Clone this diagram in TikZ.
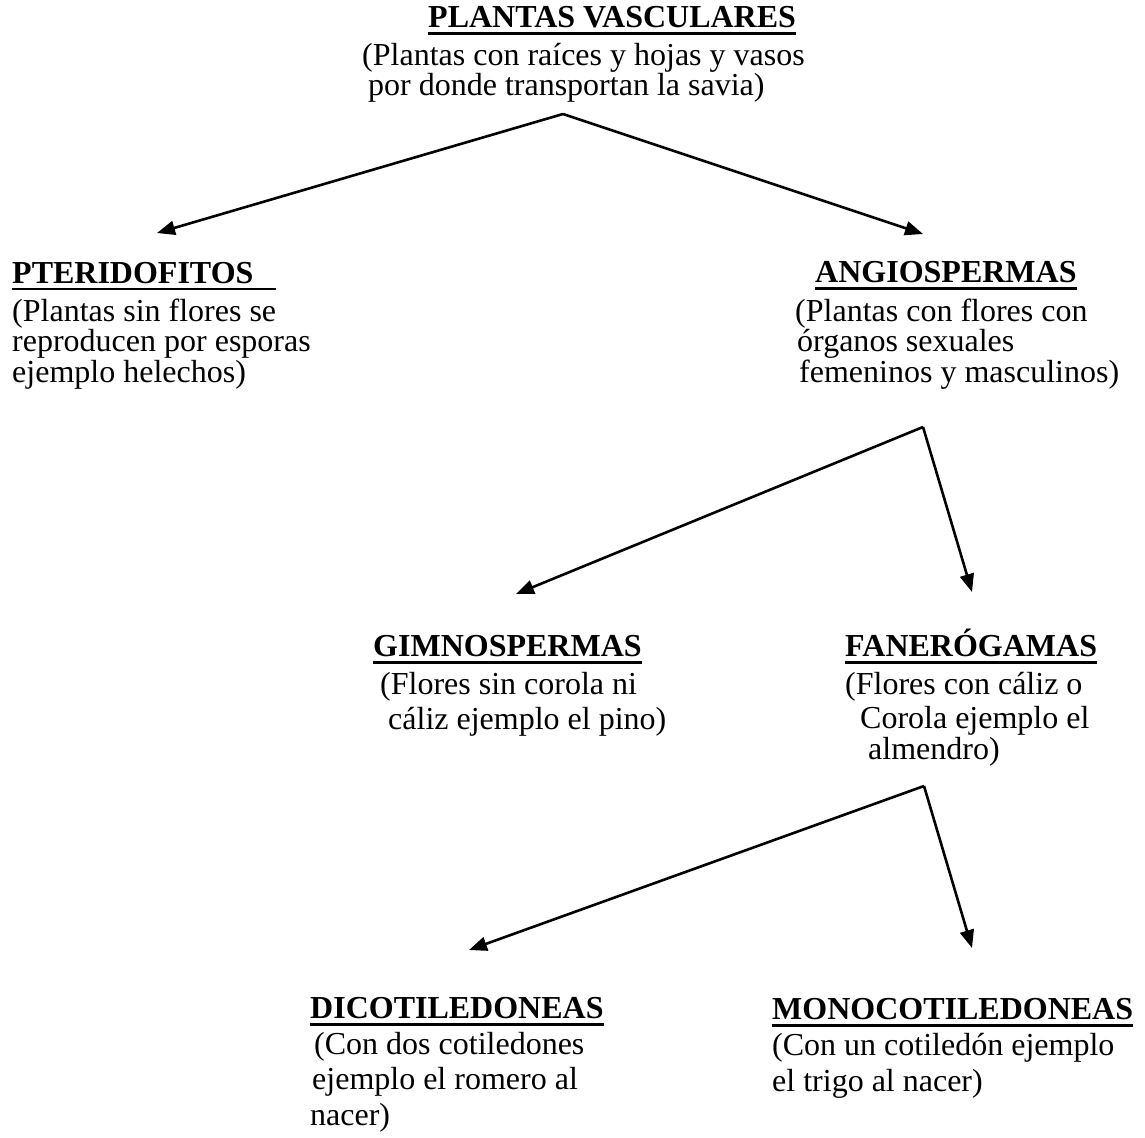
\documentclass[tikz,border=0pt]{standalone}
\usepackage{fontspec}
\setmainfont{Liberation Serif}
\usepackage{tikz}
\usetikzlibrary{arrows.meta}

% bold heading with a heavy underline, as in the word processor original
\newcommand{\ttl}[1]{\setbox0\hbox{\textbf{#1}}\rlap{\rule[-7pt]{\wd0}{2.8pt}}\box0}

\tikzset{
  block/.style={anchor=base west, inner sep=0pt, align=left,
    font=\fontsize{32}{29}\selectfont},
  branch/.style={-{Triangle[length=18pt,width=14pt]}, line width=2.6pt}
}

\begin{document}
\begin{tikzpicture}[x=1pt,y=-1pt]
\useasboundingbox (0,0) rectangle (1145,1137);

% blocks are placed at the baseline of their last line
\node[block] (vasc) at (362,96) {\hspace*{66pt}\ttl{PLANTAS VASCULARES}\\[8pt]
  (Plantas con raíces y hojas y vasos\\
  \hspace*{6pt}por donde transportan la savia)};
\node[block] (pter) at (12,382) {\ttl{PTERIDOFITOS\hspace{0.7em}}\\[8pt]
  (Plantas sin flores se\\
  reproducen por esporas\\
  ejemplo helechos)};
\node[block] (angio) at (795,382) {\hspace*{20pt}\ttl{ANGIOSPERMAS}\\[8pt]
  (Plantas con flores con\\
  \hspace*{2pt}órganos sexuales\\
  \hspace*{4pt}femeninos y masculinos)};
\node[block] (gimno) at (373,729) {\ttl{GIMNOSPERMAS}\\[8pt]
  \hspace*{7pt}(Flores sin corola ni\\[4pt]
  \hspace*{15pt}cáliz ejemplo el pino)};
\node[block] (faner) at (845,759) {\ttl{FANERÓGAMAS}\\[8pt]
  (Flores con cáliz o\\[4pt]
  \hspace*{15pt}Corola ejemplo el\\
  \hspace*{23pt}almendro)};
\node[block] (dico) at (310,1125) {\ttl{DICOTILEDONEAS}\\[6pt]
  \hspace*{4pt}(Con dos cotiledones\\[5pt]
  \hspace*{2pt}ejemplo el romero al\\[5pt]
  nacer)};
\node[block] (mono) at (772,1091) {\ttl{MONOCOTILEDONEAS}\\[6pt]
  (Con un cotiledón ejemplo\\[5pt]
  el trigo al nacer)};

% split points and arrow tips
\coordinate (vsplit) at (563,114);
\coordinate (pter tip) at (157,233);
\coordinate (angio tip) at (923,234);
\coordinate (asplit) at (923,427);
\coordinate (gimno tip) at (516,594);
\coordinate (faner tip) at (972,592);
\coordinate (fsplit) at (924,786);
\coordinate (dico tip) at (469,950);
\coordinate (mono tip) at (972,948);

\draw[branch] (vsplit) -- (pter tip);
\draw[branch] (vsplit) -- (angio tip);
\draw[branch] (asplit) -- (gimno tip);
\draw[branch] (asplit) -- (faner tip);
\draw[branch] (fsplit) -- (dico tip);
\draw[branch] (fsplit) -- (mono tip);
\end{tikzpicture}
\end{document}
